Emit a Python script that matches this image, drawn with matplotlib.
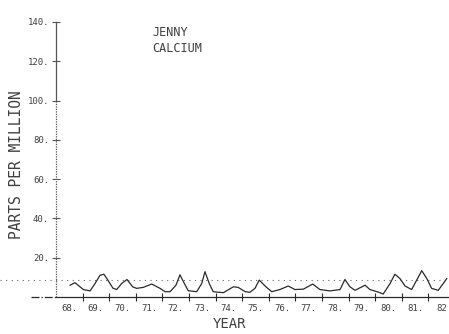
import matplotlib
matplotlib.use("Agg")
import matplotlib.pyplot as plt

# Jenny calcium, parts per million
years = [1968.53, 1968.71, 1969.03, 1969.28, 1969.47, 1969.65, 1969.80, 1969.95,
         1970.14, 1970.28, 1970.47, 1970.67, 1970.88, 1971.03, 1971.28, 1971.60,
         1971.91, 1972.10, 1972.29, 1972.51, 1972.66, 1972.79, 1972.97, 1973.29,
         1973.48, 1973.60, 1973.76, 1973.91, 1974.29, 1974.67, 1974.85, 1975.11,
         1975.29, 1975.48, 1975.64, 1975.86, 1976.11, 1976.42, 1976.73, 1976.98,
         1977.30, 1977.65, 1977.92, 1978.30, 1978.68, 1978.86, 1979.05, 1979.24,
         1979.62, 1979.80, 1980.18, 1980.30, 1980.56, 1980.74, 1980.93, 1981.12,
         1981.37, 1981.56, 1981.75, 1981.94, 1982.12, 1982.37, 1982.56, 1982.69]
calcium = [6.0, 7.3, 3.8, 3.1, 6.9, 11.0, 11.6, 8.6,
           4.5, 3.8, 6.9, 8.9, 5.2, 4.4, 4.9, 6.6,
           4.4, 2.7, 2.7, 6.0, 11.3, 7.8, 3.2, 2.7,
           6.9, 12.9, 6.9, 2.7, 2.2, 5.2, 4.9, 2.7,
           2.4, 4.4, 8.6, 5.6, 2.7, 3.8, 5.6, 3.8,
           4.0, 6.6, 3.8, 3.1, 3.8, 8.9, 5.2, 3.4,
           6.0, 3.8, 2.2, 1.5, 6.9, 11.6, 9.4, 5.6,
           3.8, 8.6, 13.4, 9.4, 4.4, 3.4, 6.9, 9.4]
reference_level = 8.8

year_ticks = list(range(1969, 1983))
year_labels = ["68.", "69.", "70.", "71.", "72.", "73.", "74.", "75.",
               "76.", "77.", "78.", "79.", "80.", "81.", "82"]
ppm_ticks = [20, 40, 60, 80, 100, 120, 140]
ppm_labels = ["20.", "40.", "60.", "80.", "100.", "120.", "140."]

FONT = "DejaVu Sans Mono"
INK = "#2a2a2a"
TXT = "#404040"
AXIS = "#555555"

fig = plt.figure(figsize=(4.49, 3.34), dpi=100)
ax = fig.add_axes([0, 0, 1, 1])
ax.set_xlim(1968 - 56 / 26.6, 1968 + 393 / 26.6)
ax.set_ylim(-37 / 1.9643, 297 / 1.9643)

for side in ["top", "right"]:
    ax.spines[side].set_visible(False)
ax.spines["left"].set_position(("data", 1968))
ax.spines["left"].set_bounds(100, 140)
ax.spines["left"].set_color(AXIS)
ax.spines["left"].set_linewidth(0.9)
ax.spines["bottom"].set_position(("data", 0))
ax.spines["bottom"].set_bounds(1968, ax.get_xlim()[1])
ax.spines["bottom"].set_color(INK)
ax.spines["bottom"].set_linewidth(0.9)

# lower part of the y axis and the left stub of the x axis
ax.plot([1968, 1968], [0, 100], color=AXIS, lw=0.9, ls=(0, (1, 1)))
ax.plot([1967.05, 1968], [0, 0], color=INK, lw=0.9, ls="-.")

# horizontal reference line
ax.axhline(reference_level, color="#666666", lw=0.8, ls=(0, (1, 4)))

ax.plot(years, calcium, color=INK, lw=0.9)

ax.set_yticks(ppm_ticks)
ax.set_yticklabels(ppm_labels, fontfamily=FONT, fontsize=6.5, color=TXT)
ax.tick_params(axis="y", direction="inout", length=6, width=0.8, color=AXIS, pad=2)

ax.set_xticks(year_ticks)
ax.set_xticklabels([])
ax.set_xticks([y + 0.5 for y in range(1968, 1983)], minor=True)
ax.set_xticklabels(year_labels, minor=True, fontfamily=FONT, fontsize=6.5, color=TXT)
ax.tick_params(axis="x", which="major", direction="inout", length=6, width=0.8, color=INK)
ax.tick_params(axis="x", which="minor", length=0, pad=5)

fig.text(17 / 449, 1 - 165 / 334, "PARTS PER MILLION", rotation=90, ha="center", va="center",
         fontfamily=FONT, fontsize=10.5, color=TXT)
fig.text(229 / 449, 1 - 324 / 334, "YEAR", ha="center", va="center",
         fontfamily=FONT, fontsize=10, color=TXT)
fig.text(152 / 449, 1 - 33 / 334, "JENNY", ha="left", va="center",
         fontfamily=FONT, fontsize=8.5, color=TXT)
fig.text(152 / 449, 1 - 48 / 334, "CALCIUM", ha="left", va="center",
         fontfamily=FONT, fontsize=8.5, color=TXT)

fig.savefig("out.png", dpi=100, facecolor="white")
